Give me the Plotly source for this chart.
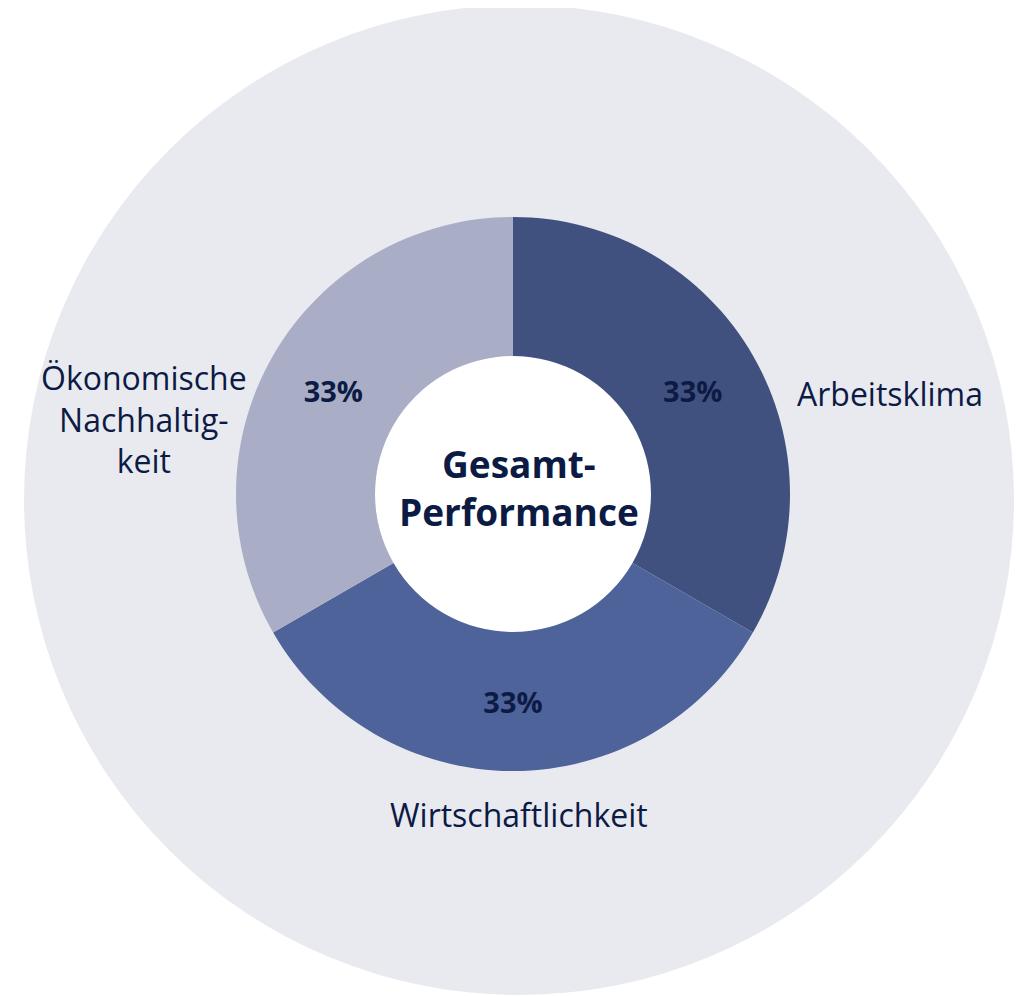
import plotly.graph_objects as go

OFF = 8  # browser body margin
W, H = 1023 - OFF, 996 - OFF

categories = ["Arbeitsklima", "Wirtschaftlichkeit", "Ökonomische Nachhaltigkeit"]
values = [33.3, 33.3, 33.3]
slice_colors = ["#41517f", "#4e639a", "#a9aec6"]
center_label = "Gesamt-<br>Performance"
outer_labels = ["Arbeitsklima", "Wirtschaftlichkeit", "Ökonomische<br>Nachhaltig-<br>keit"]

TXT = "#0c1b44"
FONT = "Open Sans"

def px(x):
    return (x - OFF) / W

def py(y):
    return 1 - (y - OFF) / H

cx, cy, r = 513, 494, 277
hole_r = 138

fig = go.Figure()
fig.add_trace(go.Pie(
    labels=categories,
    values=values,
    hole=hole_r / r,
    sort=False,
    direction="clockwise",
    rotation=0,
    marker=dict(colors=slice_colors, line=dict(width=0)),
    textinfo="percent",
    texttemplate="%{percent:.0%}",
    textposition="inside",
    insidetextorientation="horizontal",
    insidetextfont=dict(family=FONT, size=29, color=TXT, weight="bold"),
    showlegend=False,
    hoverinfo="label+percent",
    domain=dict(x=[px(cx - r), px(cx + r)], y=[py(cy + r), py(cy - r)]),
))

# big light background circle
bx, by, br = 519, 500, 495
fig.add_shape(type="circle", xref="paper", yref="paper",
              x0=px(bx - br), x1=px(bx + br), y0=py(by + br), y1=py(by - br),
              fillcolor="#e9eaf0", line=dict(width=0), layer="below")
# white centre of the donut
fig.add_shape(type="circle", xref="paper", yref="paper",
              x0=px(cx - hole_r), x1=px(cx + hole_r), y0=py(cy + hole_r), y1=py(cy - hole_r),
              fillcolor="white", line=dict(width=0), layer="below")

label_pos = [(890, 393), (519, 814), (144, 419)]
for t, (x, y) in zip(outer_labels, label_pos):
    fig.add_annotation(text=t, x=px(x), y=py(y), xref="paper", yref="paper",
                       showarrow=False, xanchor="center", yanchor="middle",
                       align="center",
                       font=dict(family=FONT, size=32, color=TXT))

fig.add_annotation(text=center_label, x=px(519), y=py(488), xref="paper", yref="paper",
                   showarrow=False, xanchor="center", yanchor="middle", align="center",
                   font=dict(family=FONT, size=37, color=TXT, weight="bold"))

fig.update_layout(width=W, height=H, margin=dict(l=0, r=0, t=0, b=0),
                  paper_bgcolor="white", plot_bgcolor="white")

fig.write_html("out.html")
